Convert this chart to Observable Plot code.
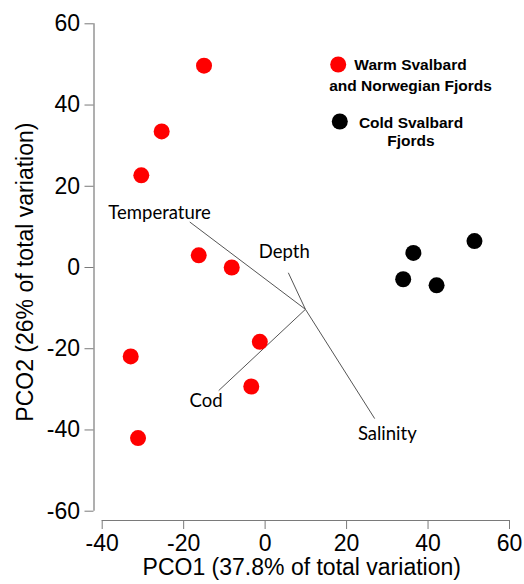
<!DOCTYPE html>
<html>
<head>
<meta charset="utf-8">
<script src="https://cdn.jsdelivr.net/npm/d3@7"></script>
<script src="https://cdn.jsdelivr.net/npm/@observablehq/plot@0.6"></script>
<style>
  html, body { margin: 0; padding: 0; background: #fff; }
  #chart { width: 524px; height: 584px; }
</style>
</head>
<body>
<div id="chart"></div>
<script>
// ---- Data ----
const warmX = [-15.0, -25.4, -30.4, -16.3, -8.2, -1.3, -3.4, -33.0, -31.2];
const warmY = [49.7, 33.5, 22.7, 3.0, 0.0, -18.3, -29.3, -21.9, -42.0];
const coldX = [36.4, 51.4, 33.9, 42.1];
const coldY = [3.6, 6.5, -2.9, -4.4];

const vectorNames = ["Temperature", "Depth", "Salinity", "Cod"];
const vectorOriginX = 9.9;
const vectorOriginY = -10.3;
const vectorEndX = [-18.5, 5.7, 26.9, -11.4];
const vectorEndY = [11.2, -1.3, -37.2, -30.3];
const vectorLabelX = [-25.9, 4.7, 30.0, -14.5];
const vectorLabelY = [13.4, 3.7, -40.9, -33.0];

const groupLabels = ["Warm Svalbard\nand Norwegian Fjords", "Cold Svalbard\nFjords"];
const groupColors = ["#ff0000", "#000000"];

const xDomain = [-40, 60];
const yDomain = [-60, 60];
const xTicks = [-40, -20, 0, 20, 40, 60];
const yTicks = [-60, -40, -20, 0, 20, 40, 60];
const xLabel = "PCO1 (37.8% of total variation)";
const yLabel = "PCO2 (26% of total variation)";

// ---- Build tables ----
const warm = warmX.map((x, i) => ({x, y: warmY[i]}));
const cold = coldX.map((x, i) => ({x, y: coldY[i]}));
const vectors = vectorNames.map((name, i) => ({
  name, x1: vectorOriginX, y1: vectorOriginY, x2: vectorEndX[i], y2: vectorEndY[i],
  lx: vectorLabelX[i], ly: vectorLabelY[i]
}));

const axisGray = "#7a7a7a";
const sans = "'Liberation Sans', Arial, Helvetica, sans-serif";
const fmt = d => String(d);

const plot = Plot.plot({
  width: 524,
  height: 584,
  marginLeft: 93.5,
  marginRight: 15,
  marginTop: 23.3,
  marginBottom: 64,
  style: {fontFamily: sans, background: "#fff", color: "#000"},
  x: {domain: xDomain, insetLeft: 8.2},
  y: {domain: yDomain, insetBottom: 9.3},
  marks: [
    // axis lines (detached, R-style)
    Plot.ruleX([xDomain[0]], {y1: yDomain[0], y2: yDomain[1], dx: -8.2, stroke: axisGray, strokeWidth: 1.2}),
    Plot.ruleY([yDomain[0]], {x1: xDomain[0], x2: xDomain[1], dy: 9.3, stroke: axisGray, strokeWidth: 1.2}),
    Plot.axisY({
      ticks: yTicks, tickFormat: fmt, tickSize: 9, tickPadding: 5, stroke: axisGray, fontSize: 23, fill: "#000",
      label: yLabel, labelAnchor: "center", labelOffset: 77, labelArrow: "none"
    }),
    Plot.axisX({
      ticks: xTicks, tickFormat: fmt, tickSize: 9, tickPadding: 5, stroke: axisGray, fontSize: 23, fill: "#000",
      label: xLabel, labelAnchor: "center", labelOffset: 54, labelArrow: "none"
    }),
    // biplot vectors
    Plot.link(vectors, {x1: "x1", y1: "y1", x2: "x2", y2: "y2", stroke: "#555", strokeWidth: 1}),
    Plot.text(vectors, {x: "lx", y: "ly", text: "name", fontFamily: "Lato, 'Open Sans', sans-serif", fontSize: 18.5, fill: "#000"}),
    // points
    Plot.dot(warm, {x: "x", y: "y", r: 8, fill: groupColors[0]}),
    Plot.dot(cold, {x: "x", y: "y", r: 8, fill: groupColors[1]}),
    // legend
    Plot.dot([groupLabels[0]], {frameAnchor: "top-left", dx: 244.2, dy: 40.7, r: 8, fill: groupColors[0]}),
    Plot.dot([groupLabels[1]], {frameAnchor: "top-left", dx: 245.8, dy: 97.7, r: 8, fill: groupColors[1]}),
    Plot.text([groupLabels[0]], {frameAnchor: "top-left", dx: 316.5, dy: 67.4, text: d => d, textAnchor: "middle", lineAnchor: "bottom", lineHeight: 1.38, fontSize: 15.5, fontWeight: "bold", fill: "#000"}),
    Plot.text([groupLabels[1]], {frameAnchor: "top-left", dx: 317, dy: 122.4, text: d => d, textAnchor: "middle", lineAnchor: "bottom", lineHeight: 1.19, fontSize: 15.5, fontWeight: "bold", fill: "#000"})
  ]
});
document.getElementById("chart").appendChild(plot);
</script>
</body>
</html>
